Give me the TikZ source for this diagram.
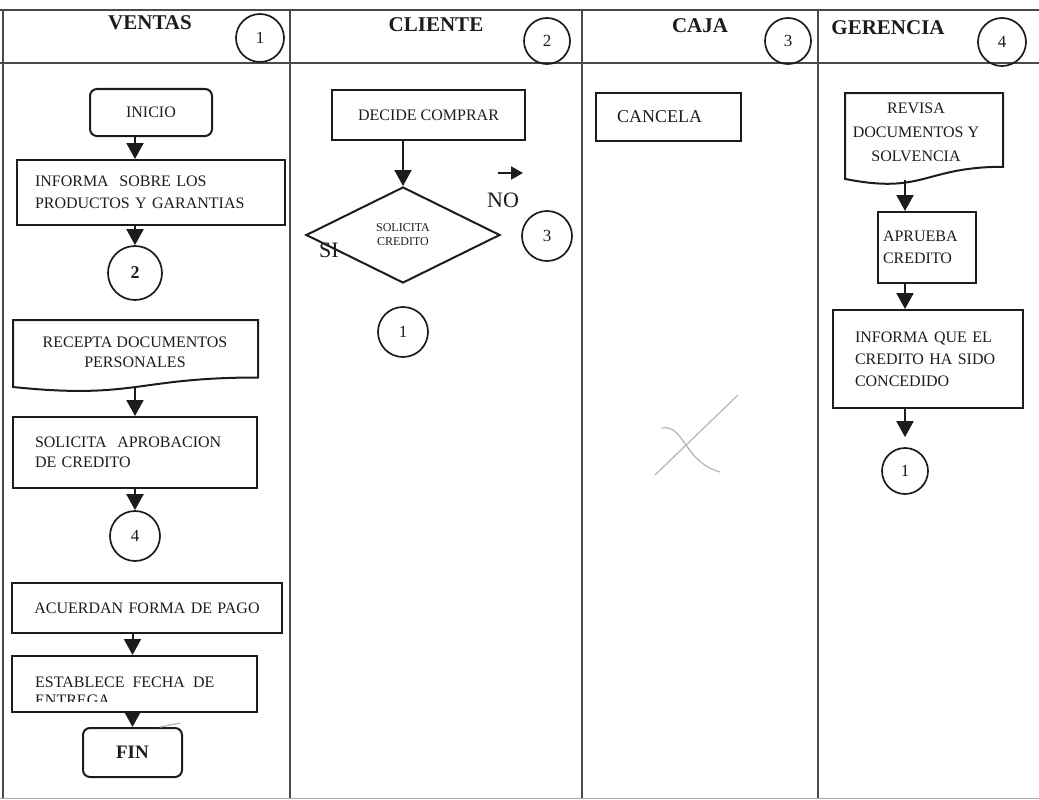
\documentclass[tikz,border=0pt]{standalone}
\usepackage{fontspec}
\setmainfont{Liberation Serif}
\usetikzlibrary{arrows.meta,shapes.geometric,calc}
\definecolor{ink}{HTML}{1C1C1C}
\definecolor{rule}{HTML}{4A4A4A}
\definecolor{pencil}{HTML}{B4B4B4}
\newcommand\bodytxt{\fontsize{16}{22}\selectfont}
\newcommand\headtxt{\fontsize{21}{24}\selectfont\bfseries}

\begin{document}
\begin{tikzpicture}[x=1pt,y=-1pt,
  lane/.style={draw=rule,line width=1.4pt},
  box/.style={draw=ink,line width=2pt,inner ysep=0pt,font=\bodytxt,text=ink},
  term/.style={box,rounded corners=7pt},
  conn/.style={draw=ink,circle,line width=1.7pt,inner sep=0pt,font=\fontsize{17}{17}\selectfont,text=ink},
  flow/.style={draw=ink,line width=2pt,-{Triangle[width=17pt,length=16pt]}},
  head/.style={font=\headtxt,text=ink,anchor=base},
  doc/.style={draw=ink,line width=2pt},
  label/.style={font=\bodytxt,text=ink,align=center},
  pen/.style={draw=pencil,line width=1.2pt,line cap=round}
]
\useasboundingbox (0,0) rectangle (1039,800);

% swimlane grid
\draw[lane] (0,10) -- (1039,10);
\draw[lane] (0,63) -- (1039,63);
\foreach \x in {3,290,582,818} \draw[lane] (\x,10) -- (\x,798);
\draw[draw=rule!45,line width=1pt] (0,798) -- (1039,798);

% lane headers
\node[head] (hv) at (150,30) {VENTAS};
\node[head] (hc) at (436,32) {CLIENTE};
\node[head] (hj) at (700,33) {CAJA};
\node[head] (hg) at (888,35) {GERENCIA};
\node[conn,minimum size=48pt] (h1) at (260,38) {1};
\node[conn,minimum size=46pt] (h2) at (547,41) {2};
\node[conn,minimum size=46pt] (h3) at (788,41) {3};
\node[conn,minimum size=48pt] (h4) at (1002,42) {4};

% ---- VENTAS ----
\node[term,minimum width=122pt,minimum height=47pt] (inicio) at (151,112.5) {INICIO};
\node[box,text width=232pt,inner xsep=18pt,minimum height=65pt,align=left] (informa) at (151,192.5)
  {INFORMA\ \ SOBRE LOS\\PRODUCTOS Y GARANTIAS};
\node[conn,minimum size=54pt,font=\fontsize{18}{18}\selectfont\bfseries] (v2) at (135,273) {2};

\draw[doc] (13,320) -- (258,320) -- (258,377.5)
  .. controls (135.5,377.5) and (135.5,399.7) .. (13,387) -- cycle;
\node[label,font=\fontsize{16}{20}\selectfont] (recepta) at (135,352) {RECEPTA DOCUMENTOS\\PERSONALES};
\coordinate (recb) at (135,387);

\node[box,text width=200pt,inner xsep=22pt,minimum height=71pt,align=left,font=\fontsize{16}{20}\selectfont] (aprob) at (135,452.5)
  {SOLICITA\ \ APROBACION\\DE CREDITO};
\node[conn,minimum size=50pt] (v4) at (135,536) {4};

\node[box,text width=230pt,inner xsep=20pt,minimum height=50pt,align=center] (acuerdan) at (147,608)
  {ACUERDAN FORMA DE PAGO};
\node[box,minimum width=245pt,minimum height=56pt] (establece) at (134.5,684) {};
\begin{scope}
  \clip (13,657) rectangle (256,701);
  \node[anchor=base west,font=\bodytxt,text=ink,inner sep=0pt] (est1) at (35,687) {ESTABLECE\ \ FECHA\ \ DE};
  \node[anchor=base west,font=\bodytxt,text=ink,inner sep=0pt] (est2) at (35,705) {ENTREGA};
\end{scope}
\node[term,minimum width=99pt,minimum height=49pt,font=\fontsize{19}{19}\selectfont\bfseries] (fin) at (132.5,752.5) {FIN};

\draw[flow] (inicio.south -| v2.north) -- (informa.north -| v2.north);
\draw[flow] (informa.south -| v2.north) -- (v2.north);
\draw[flow] (recb) -- (aprob.north -| recb);
\draw[flow] (aprob.south -| v4.north) -- (v4.north);
\draw[flow] (acuerdan.south -| fin.north) -- (establece.north -| fin.north);
\draw[flow] (establece.south -| fin.north) -- (fin.north);
\draw[pen] (160,727) -- (180,723);

% ---- CLIENTE ----
\node[box,minimum width=193pt,minimum height=50pt] (decide) at (428.5,115) {DECIDE COMPRAR};
\node[draw=ink,line width=2pt,diamond,minimum width=194pt,minimum height=96pt,inner sep=0pt,
  font=\fontsize{12}{14}\selectfont,text=ink,align=center] (solicita) at (403,235) {SOLICITA\\CREDITO};
\draw[flow] (decide.south -| solicita.north) -- (solicita.north);
\node[font=\fontsize{22}{22}\selectfont,text=ink] (si) at (329,250) {SI};
\node[font=\fontsize{22}{22}\selectfont,text=ink] (no) at (503,200) {NO};
\coordinate (na) at (498,173);
\coordinate (nb) at (523,173);
\draw[draw=ink,line width=2pt,-{Triangle[width=13pt,length=12pt]}] (na) -- (nb);
\node[conn,minimum size=50pt] (c3) at (547,236) {3};
\node[conn,minimum size=50pt] (c1) at (403,332) {1};

% ---- CAJA ----
\node[box,text width=103pt,inner xsep=21pt,minimum height=48pt,align=left,font=\fontsize{18}{18}\selectfont] (cancela) at (668.5,117) {CANCELA};
\draw[pen] (655,475) -- (738,395);
\draw[pen] (662,428) .. controls (684,424) and (684,462) .. (720,472);

% ---- GERENCIA ----
\draw[doc] (845,93) -- (1003,93) -- (1003,166.8)
  .. controls (924,166.8) and (924,194.8) .. (845,178.9) -- cycle;
\node[label,font=\fontsize{16}{24}\selectfont] (revisa) at (916,132) {REVISA\\DOCUMENTOS Y\\SOLVENCIA};
\coordinate (revb) at (905,179.5);
\node[box,text width=88pt,inner xsep=5pt,minimum height=71pt,align=left] (aprueba) at (927,247.5) {APRUEBA\\CREDITO};
\node[box,text width=146pt,inner xsep=22pt,minimum height=98pt,align=left] (concedido) at (928,359)
  {INFORMA QUE EL\\CREDITO HA SIDO\\CONCEDIDO};
\node[conn,minimum size=46pt] (g1) at (905,471) {1};

\draw[flow] (revb) -- (aprueba.north -| revb);
\draw[flow] (aprueba.south -| g1.north) -- (concedido.north -| g1.north);
\draw[flow,shorten >=10pt] (concedido.south -| g1.north) -- (g1.north);
\end{tikzpicture}
\end{document}
